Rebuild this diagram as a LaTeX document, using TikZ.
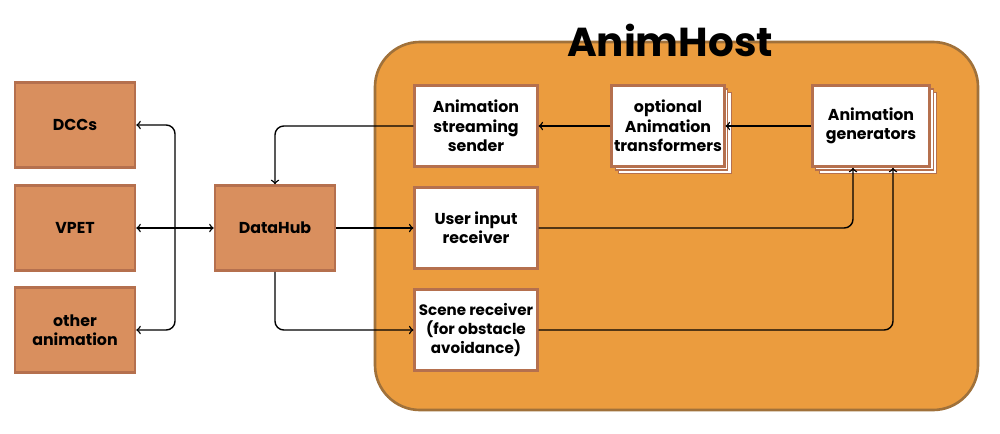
\documentclass[tikz,border=0pt]{standalone}
\usepackage{fontspec}
\setmainfont{Poppins}
\usetikzlibrary{shadows}
\definecolor{hostfill}{HTML}{EB9C3E}
\definecolor{hostline}{HTML}{A0713A}
\definecolor{extfill}{HTML}{D98F5E}
\definecolor{boxline}{HTML}{B5704E}
\tikzset{
  ext/.style={draw=boxline, line width=1.5pt, fill=extfill, minimum width=2.4cm, minimum height=1.7cm, align=center, font=\fontsize{9}{11}\selectfont\bfseries},
  part/.style={draw=boxline, line width=1.5pt, fill=white, minimum width=2.45cm, minimum height=1.62cm, inner sep=1pt, align=center, font=\fontsize{9}{11}\selectfont\bfseries},
  stack/.style={part, double copy shadow={shadow xshift=2pt, shadow yshift=-2pt, draw=boxline, fill=white, line width=0.6pt}},
  link/.style={thick, -to, rounded corners=5pt},
}
\begin{document}
\begin{tikzpicture}[x=0.02cm, y=-0.02cm]
  \useasboundingbox (0,0) rectangle (1000,433);
  % host frame
  \draw[draw=hostline, fill=hostfill, line width=1.5pt, rounded corners=0.9cm] (375,42) rectangle (978,410);
  \node[font=\fontsize{23}{26}\selectfont\bfseries] (host) at (670,40) {AnimHost};

  % outside boxes
  \node[ext] (dcc) at (75,125) {DCCs};
  \node[ext] (vpet) at (75,228) {VPET};
  \node[ext] (other) at (75,330) {other\\animation};
  \node[ext] (hub) at (275,228) {DataHub};

  % inside boxes
  \node[part] (sender) at (476,126) {Animation\\streaming\\sender};
  \node[part] (user) at (476,228) {User input\\receiver};
  \node[part, font=\fontsize{8.6}{11}\selectfont\bfseries] (scene) at (476,330) {Scene receiver\\(for obstacle\\avoidance)};
  \node[stack, minimum width=2.25cm] (trans) at (668,126) {optional\\Animation\\transformers};
  \node[stack, minimum width=2.35cm] (gen) at (871,126) {Animation\\generators};

  % connectors
  \coordinate (bus) at (175,228);
  \draw[thick, to-to] (vpet) -- (hub);
  \draw[link] (bus) |- (dcc);
  \draw[link] (bus) |- (other);
  \draw[link] (sender) -| (hub);
  \draw[link] (hub) -- (user);
  \draw[link] (hub) |- (scene);
  \draw[link] (trans) -- (sender);
  \draw[link] (gen) -- (trans);
  \draw[link] (user) -| ([xshift=-0.36cm]gen.south);
  \draw[link] (scene) -| ([xshift=0.44cm]gen.south);
\end{tikzpicture}
\end{document}
